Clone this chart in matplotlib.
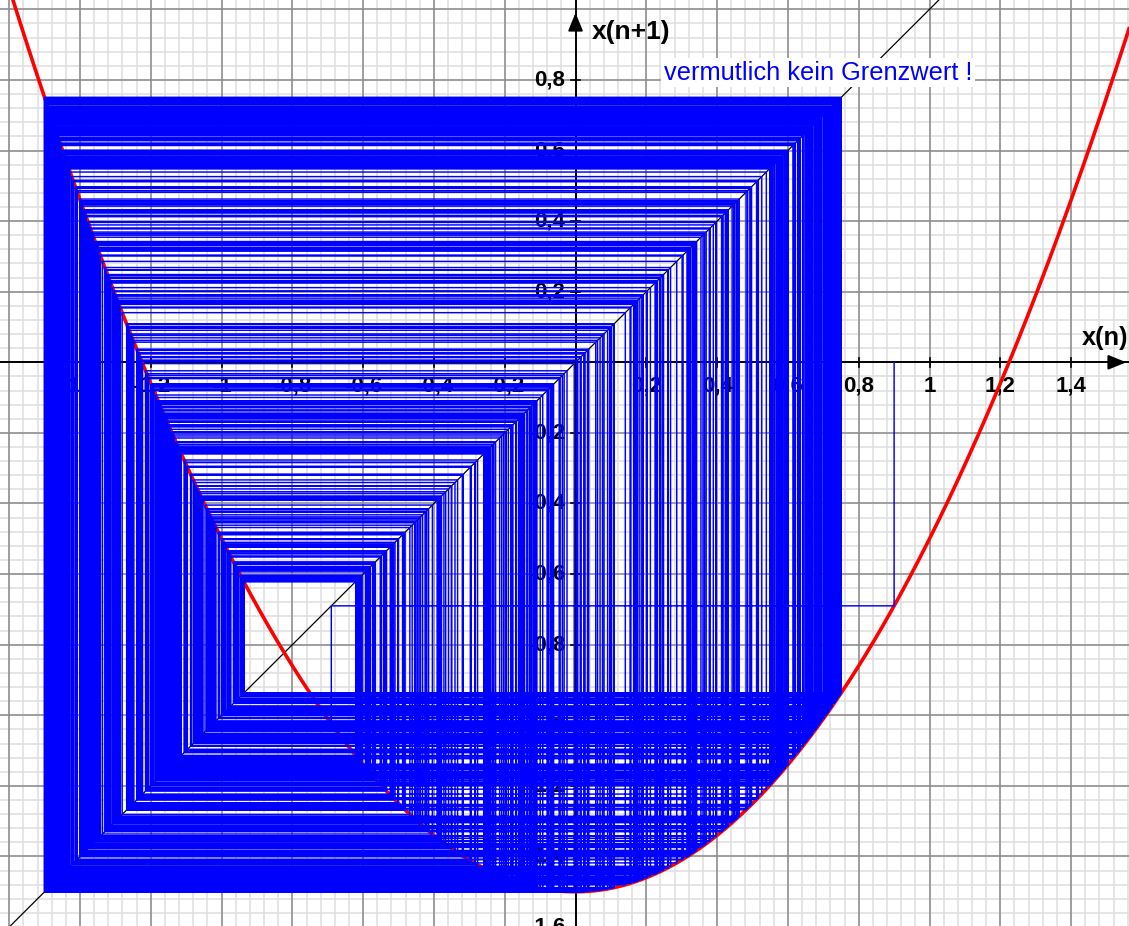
import numpy as np
import matplotlib
matplotlib.use("Agg")
import matplotlib.pyplot as plt

# Quadratic map x(n+1) = x(n)^2 - c and its cobweb orbit
c = 1.5
x_start = 0.9
n_steps = 750

x_ticks = [-1.4, -1.2, -1.0, -0.8, -0.6, -0.4, -0.2, 0.2, 0.4, 0.6, 0.8, 1.0, 1.2, 1.4]
y_ticks = [0.8, 0.6, 0.4, 0.2, -0.2, -0.4, -0.6, -0.8, -1.0, -1.2, -1.4, -1.6]
note = "vermutlich kein Grenzwert !"

W, H = 1129, 926
fig = plt.figure(figsize=(W / 100, H / 100), dpi=100)
ax = fig.add_axes([0, 0, 1, 1])
x_lo, x_hi = -1.626, 1.5636
y_lo, y_hi = -1.597, 1.0264
ax.set_xlim(x_lo, x_hi)
ax.set_ylim(y_lo, y_hi)
ax.axis("off")

FONT = "Liberation Sans"

# grid: fine lines every 0.04, coarse lines every 0.2
minor = np.arange(-2.0, 2.0001, 0.04)
major = np.arange(-2.0, 2.0001, 0.2)
for v in minor:
    ax.axvline(v, color="#dedede", lw=1.1, zorder=0)
    ax.axhline(v, color="#dedede", lw=1.1, zorder=0)
for v in major:
    if abs(v) < 1e-9:
        continue
    ax.axvline(v, color="#8c8c8c", lw=1.1, zorder=0.5)
    ax.axhline(v, color="#8c8c8c", lw=1.1, zorder=0.5)

# diagonal y = x
d = np.array([-2.0, 2.0])
ax.plot(d, d, color="black", lw=0.9, zorder=1)

# coordinate axes with arrows
ax.plot([x_lo, x_hi], [0, 0], color="black", lw=1.4, zorder=2)
ax.plot([0, 0], [y_lo, y_hi], color="black", lw=1.4, zorder=2)
ax.annotate("", xy=(x_hi, 0), xytext=(x_hi - 0.05, 0),
            arrowprops=dict(arrowstyle="-|>,head_length=1.1,head_width=0.45",
                            color="black", lw=1.4), zorder=2)
ax.annotate("", xy=(0, 0.998), xytext=(0, 0.95),
            arrowprops=dict(arrowstyle="-|>,head_length=1.1,head_width=0.45",
                            color="black", lw=1.4), zorder=2)

tick_half = 0.012
for t in x_ticks:
    ax.plot([t, t], [-tick_half, tick_half], color="black", lw=1.2, zorder=2)
    ax.text(t, -0.068, f"{t:g}".replace(".", ","), ha="center", va="center",
            fontsize=16, fontweight="bold", family=FONT, zorder=2.5)
for t in y_ticks:
    ax.plot([-tick_half, tick_half], [t, t], color="black", lw=1.2, zorder=2)
    ax.text(-0.03, t, f"{t:g}".replace(".", ","), ha="right", va="center",
            fontsize=16, fontweight="bold", family=FONT, zorder=2.5)

ax.text(0.045, 0.935, "x(n+1)", ha="left", va="center", fontsize=19,
        fontweight="bold", family=FONT, zorder=3)
ax.text(1.43, 0.07, "x(n)", ha="left", va="center", fontsize=18.3,
        fontweight="bold", family=FONT, zorder=3)

# parabola
xs = np.linspace(x_lo, x_hi, 800)
ax.plot(xs, xs ** 2 - c, color="#ff0000", lw=2.6, zorder=3)

# cobweb: vertical to the parabola, horizontal to the diagonal
px = [x_start]
py = [0.0]
x = x_start
for _ in range(n_steps):
    y = x * x - c
    px += [x, y]
    py += [y, y]
    x = y
ax.plot(px, py, color="#0000ff", lw=1.05, zorder=4)

ax.text(0.25, 0.82, note, ha="left", va="center", fontsize=18.3,
        color="#0000ff", family=FONT, zorder=5,
        bbox=dict(boxstyle="square,pad=0.1", fc="white", ec="none"))

fig.savefig("out.png", dpi=100)
